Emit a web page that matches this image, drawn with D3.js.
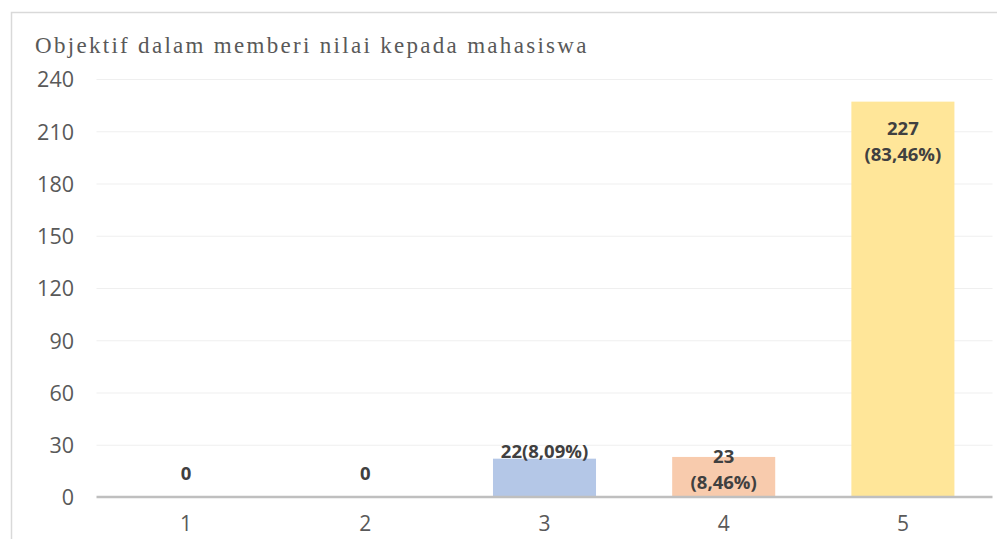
<!DOCTYPE html>
<html>
<head>
<meta charset="utf-8">
<script src="https://cdn.jsdelivr.net/npm/d3@7"></script>
<style>
  body { margin: 0; background: #fff; }
  svg { display: block; }
</style>
</head>
<body>
<svg id="chart" width="997" height="539"></svg>
<script>
// Score categories, respondent counts, and the labels shown above each bar
const categories = ["1", "2", "3", "4", "5"];
const counts = [0, 0, 22, 23, 227];
const labelLines = [["0"], ["0"], ["22(8,09%)"], ["23", "(8,46%)"], ["227", "(83,46%)"]];
const barColors = ["#b4c7e7", "#b4c7e7", "#b4c7e7", "#f8cbad", "#ffe699"];
const yTicks = [0, 30, 60, 90, 120, 150, 180, 210, 240];
const title = "Objektif dalam memberi nilai kepada mahasiswa";

const svg = d3.select("#chart");
const margin = { left: 96.5, right: 4.5, top: 79, bottom: 42 };
const W = 997, H = 539;

// Outer chart frame
svg.append("path")
  .attr("d", `M11.5,${H} L11.5,12.5 L${W},12.5`)
  .attr("fill", "none")
  .attr("stroke", "#d9d9d9")
  .attr("stroke-width", 1.5);

svg.append("text")
  .attr("x", 35).attr("y", 52.5)
  .attr("font-family", "'Liberation Serif', serif")
  .attr("font-size", 23)
  .attr("letter-spacing", 2.3)
  .attr("fill", "#595959")
  .text(title);

const x = d3.scaleBand()
  .domain(categories)
  .range([margin.left, W - margin.right])
  .paddingInner(0.425)
  .paddingOuter(0.2125);

const y = d3.scaleLinear()
  .domain([0, 240])
  .range([H - margin.bottom, margin.top]);

// Horizontal gridlines
svg.append("g")
  .selectAll("line")
  .data(yTicks.filter(d => d > 0))
  .join("line")
  .attr("x1", margin.left).attr("x2", W - margin.right)
  .attr("y1", d => y(d) + 0.5).attr("y2", d => y(d) + 0.5)
  .attr("stroke", "#efefef")
  .attr("stroke-width", 1.2);

// Y axis labels
const yAxis = d3.axisLeft(y).tickValues(yTicks).tickSize(0).tickPadding(0);
const gy = svg.append("g")
  .attr("transform", `translate(74,1)`)
  .call(yAxis);
gy.select(".domain").remove();
gy.selectAll("text")
  .attr("font-family", "'Open Sans', sans-serif")
  .attr("font-size", 21.5)
  .attr("fill", "#595959");

// Bars
svg.append("g")
  .selectAll("rect")
  .data(counts)
  .join("rect")
  .attr("x", (d, i) => x(categories[i]))
  .attr("y", d => y(d))
  .attr("width", x.bandwidth())
  .attr("height", d => y(0) - y(d))
  .attr("fill", (d, i) => barColors[i]);

// Baseline
svg.append("line")
  .attr("x1", margin.left).attr("x2", W - margin.right)
  .attr("y1", y(0)).attr("y2", y(0))
  .attr("stroke", "#bfbfbf")
  .attr("stroke-width", 2.5);

// X axis labels
const xAxis = d3.axisBottom(x).tickSize(0).tickPadding(0);
const gx = svg.append("g")
  .attr("transform", `translate(0,${y(0) + 19})`)
  .call(xAxis);
gx.select(".domain").remove();
gx.selectAll("text")
  .attr("font-family", "'Open Sans', sans-serif")
  .attr("font-size", 21)
  .attr("fill", "#595959");

// Data labels: baseline offset of the first line relative to the bar top
const labelOffsets = [-17, -17, -0.5, 6, 33.5];
counts.forEach((v, i) => {
  const lines = labelLines[i];
  const cx = x(categories[i]) + x.bandwidth() / 2;
  const base = y(v) + labelOffsets[i];
  const t = svg.append("text")
    .attr("text-anchor", "middle")
    .attr("font-family", "'Open Sans', sans-serif")
    .attr("font-weight", "bold")
    .attr("font-size", 18.5)
    .attr("fill", "#404040");
  lines.forEach((ln, j) => {
    t.append("tspan")
      .attr("x", cx)
      .attr("y", base + j * 26)
      .text(ln);
  });
});
</script>
</body>
</html>
